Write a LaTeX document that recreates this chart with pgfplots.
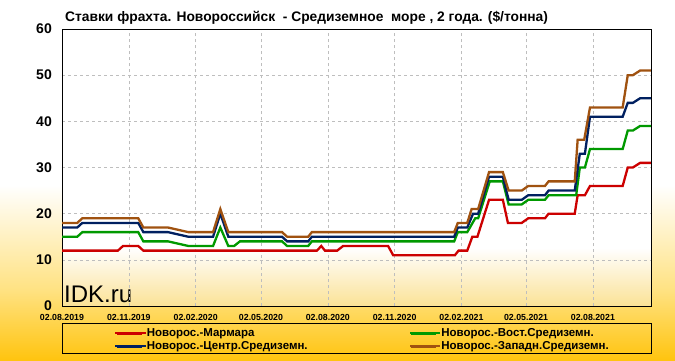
\documentclass[border=0pt]{standalone}
\usepackage{pgfplots}
\pgfplotsset{compat=1.18}
\usepackage{fontspec}
\setmainfont{Liberation Sans}
\definecolor{cred}{RGB}{204,0,0}
\definecolor{cgreen}{RGB}{0,153,0}
\definecolor{cblue}{RGB}{0,32,96}
\definecolor{cbrown}{RGB}{160,82,16}
\definecolor{bgbot}{RGB}{255,196,15}
\definecolor{bgmid}{RGB}{255,226,130}
\definecolor{plotbot}{RGB}{251,226,150}
\definecolor{gridc}{RGB}{190,190,190}
\begin{document}
\begin{tikzpicture}
\path[use as bounding box] (0pt,0pt) rectangle (675pt,360pt);
\fill[white] (0pt,0pt) rectangle (675pt,360pt);
\shade[top color=bgmid, bottom color=bgbot] (0pt,0pt) rectangle (675pt,70pt);
\shade[top color=white, bottom color=bgmid] (0pt,70pt) rectangle (675pt,175pt);
\fill[white] (62pt,54pt) rectangle (651pt,331pt);
\shade[top color=white, bottom color=plotbot] (62pt,54pt) rectangle (651pt,112pt);
\node[anchor=base west, font=\bfseries\fontsize{13.8}{15}\selectfont, inner sep=0pt] at (65pt,338.5pt) {Ставки фрахта. Новороссийск\ \ - Средиземное\ \ море , 2 года. (\$/тонна)};
\node[anchor=base west, font=\fontsize{24}{24}\selectfont, inner sep=0pt] at (64pt,58pt) {IDK.ru};
\begin{axis}[
  at={(62pt,54pt)}, anchor=south west,
  scale only axis, width=589pt, height=277pt,
  xmin=0, xmax=811, ymin=0, ymax=60,
  axis background/.style={fill=none},
  axis line style={black, line width=1pt},
  xtick={0,92,184,274,366,458,550,639,731},
  xticklabels={02.08.2019,02.11.2019,02.02.2020,02.05.2020,02.08.2020,02.11.2020,02.02.2021,02.05.2021,02.08.2021},
  ytick={0,10,20,30,40,50,60},
  /pgf/number format/assume math mode=true,
  tick style={draw=none},
  xticklabel style={font=\bfseries\fontsize{8.8}{9}\selectfont, inner sep=0pt, anchor=north, yshift=-8pt},
  yticklabel style={font=\bfseries\fontsize{14}{14}\selectfont, inner sep=0pt, anchor=east, xshift=-10pt},
  grid=major,
  major grid style={gridc, line width=0.6pt, dash pattern=on 3pt off 3pt},
  legend columns=2,
  legend cell align=left,
  legend style={draw=none, fill=none, inner sep=0pt, at={(0.09,-0.074)}, anchor=north west,
    font=\bfseries\fontsize{11.5}{13}\selectfont,
    nodes={inner sep=1pt, text height=8.5pt, text depth=2.5pt},
    row sep=0pt,
    /tikz/every even column/.append style={text width=262pt}},
  legend image code/.code={\draw[#1, line width=2.8pt] (0pt,0pt) -- (25pt,0pt); \path (0pt,0pt) rectangle (28pt,0.1pt);},
]
\addplot[cred, line width=2.3pt] coordinates {
(0,12) (77,12) (84,13) (105,13) (112,12) (351,12) (357,13) (362,12) (379,12) (387,13)
(449,13) (456,11) (541,11) (546,12) (558,12) (565,15) (572,15) (588,23) (607,23) (614,18)
(633,18) (642,19) (665,19) (670,20) (706,20) (710,24) (720,24) (727,26) (772,26) (779,30)
(786,30) (796,31) (811,31)};
\addlegendentry{Новорос.-Мармара}
\addplot[cgreen, line width=2.3pt] coordinates {
(0,15) (21,15) (28,16) (105,16) (112,14) (146,14) (174,13) (208,13) (218,17) (229,13)
(237,13) (245,14) (303,14) (310,13) (339,13) (344,14) (540,14) (545,16) (558,16) (569,19)
(573,19) (589,27) (607,27) (615,22) (633,22) (642,23) (665,23) (670,24) (708,24) (713,30)
(720,30) (727,34) (772,34) (779,38) (786,38) (796,39) (811,39)};
\addlegendentry{Новорос.-Вост.Средиземн.}
\addplot[cblue, line width=2.3pt] coordinates {
(0,17) (21,17) (28,18) (105,18) (112,16) (146,16) (174,15) (208,15) (218,20) (229,15)
(303,15) (310,14) (339,14) (344,15) (540,15) (545,17) (558,17) (566,20) (573,20) (588,28)
(607,28) (615,23) (633,23) (642,24) (665,24) (670,25) (706,25) (713,33) (720,33) (727,41)
(772,41) (779,44) (786,44) (796,45) (811,45)};
\addlegendentry{Новорос.-Центр.Средиземн.}
\addplot[cbrown, line width=2.3pt] coordinates {
(0,18) (21,18) (28,19) (105,19) (112,17) (146,17) (174,16) (208,16) (218,21) (229,16)
(303,16) (310,15) (339,15) (344,16) (540,16) (545,18) (558,18) (564,21) (573,21) (588,29)
(607,29) (615,25) (633,25) (642,26) (665,26) (670,27) (706,27) (710,36) (719,36) (727,43)
(772,43) (779,50) (786,50) (796,51) (811,51)};
\addlegendentry{Новорос.-Западн.Средиземн.}
\end{axis}
\draw[black, line width=1pt] (651pt,54pt) -- (651pt,331pt);
\draw[black, line width=0.9pt] (62pt,7pt) rectangle (651pt,37pt);
\end{tikzpicture}
\end{document}
